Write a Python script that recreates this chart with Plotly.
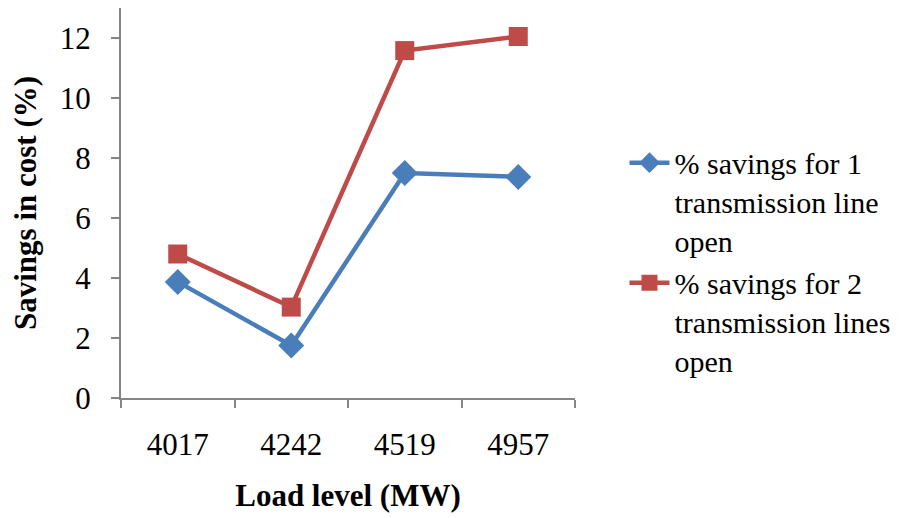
import plotly.graph_objects as go

# load levels (categories)
load_levels = ["4017", "4242", "4519", "4957"]

# % savings in cost
savings_1_line = [3.87, 1.75, 7.5, 7.37]
savings_2_lines = [4.8, 3.03, 11.58, 12.05]

name_1 = "% savings for 1<br>transmission line<br>open"
name_2 = "% savings for 2<br>transmission lines<br>open"

FONT = "Liberation Serif, Times New Roman, serif"
AXIS_GREY = "#868686"

fig = go.Figure()

fig.add_trace(go.Scatter(
    x=load_levels,
    y=savings_1_line,
    name=name_1,
    mode="lines+markers",
    line=dict(color="#4A7EBB", width=4.5),
    marker=dict(symbol="diamond", size=20, color="#4A7EBB")
))

fig.add_trace(go.Scatter(
    x=load_levels,
    y=savings_2_lines,
    name=name_2,
    mode="lines+markers",
    line=dict(color="#BE4B48", width=4.5),
    marker=dict(symbol="square", size=19, color="#BE4B48")
))

# page body has an 8px margin, so the figure is a bit smaller than the window
fig.update_layout(
    width=899,
    height=510,
    margin=dict(l=113, r=332, t=0, b=120),
    plot_bgcolor="white",
    paper_bgcolor="white",
    font=dict(family=FONT, size=31, color="black"),
    showlegend=True,
    legend=dict(
        x=1.109, xanchor="left",
        y=0.67, yanchor="top",
        font=dict(family=FONT, size=30, color="black"),
        valign="top",
        tracegroupgap=4,
        itemwidth=40,
    ),
)

fig.update_xaxes(
    type="category",
    range=[-0.5, 3.5],
    tickson="boundaries",
    ticks="outside",
    ticklen=8,
    tickwidth=2,
    tickcolor=AXIS_GREY,
    showline=True,
    linecolor=AXIS_GREY,
    linewidth=2,
    showgrid=False,
    automargin=False,
    ticklabelstandoff=18,
    title=dict(text="<b>Load level (MW)</b>", standoff=23,
               font=dict(family=FONT, size=31, color="black")),
)

fig.update_yaxes(
    range=[0, 13],
    tickvals=[0, 2, 4, 6, 8, 10, 12],
    ticks="outside",
    ticklen=8,
    tickwidth=2,
    tickcolor=AXIS_GREY,
    showline=True,
    linecolor=AXIS_GREY,
    linewidth=2,
    showgrid=False,
    zeroline=False,
    automargin=False,
    ticklabelstandoff=14,
    title=dict(text="<b>Savings in cost (%)</b>", standoff=19,
               font=dict(family=FONT, size=31, color="black")),
)

fig.write_html("out.html")
